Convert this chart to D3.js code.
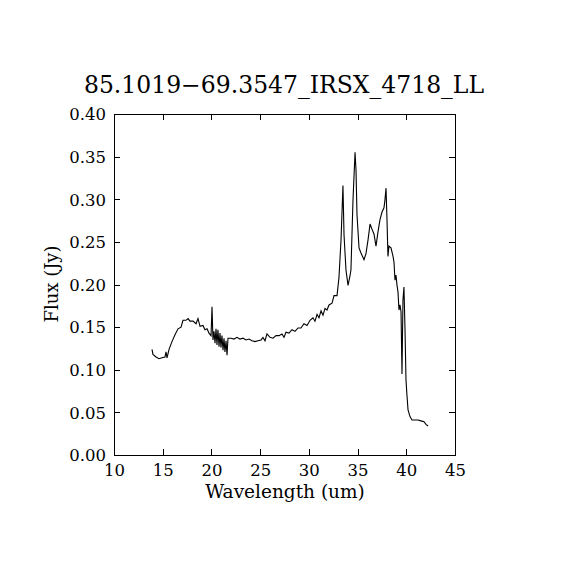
<!DOCTYPE html>
<html>
<head>
<meta charset="utf-8">
<script src="https://cdn.jsdelivr.net/npm/d3@7"></script>
<style>
html,body{margin:0;padding:0;background:#fff;}
svg text{font-family:"DejaVu Serif",serif;fill:#000;}
</style>
</head>
<body>
<svg id="chart" width="570" height="570"></svg>
<script>
const title = "85.1019\u221269.3547_IRSX_4718_LL";
const xLabel = "Wavelength (um)";
const yLabel = "Flux (Jy)";
const xTicks = [10, 15, 20, 25, 30, 35, 40, 45];
const yTicks = [0.00, 0.05, 0.10, 0.15, 0.20, 0.25, 0.30, 0.35, 0.40];

const wavelength = [13.90,14.00,14.31,14.62,14.93,15.23,15.34,15.44,15.65,15.95,16.26,16.57,16.88,17.08,17.39,17.60,17.80,18.11,18.42,18.62,18.83,19.13,19.34,19.55,19.75,19.96,20.06,20.16,20.26,20.37,20.47,20.57,20.67,20.78,20.88,20.98,21.08,21.19,21.29,21.39,21.50,21.60,21.70,22.01,22.32,22.62,22.93,23.24,23.55,23.86,24.16,24.47,24.78,25.09,25.29,25.50,25.70,26.01,26.32,26.63,26.94,27.24,27.45,27.65,27.96,28.27,28.58,28.89,29.19,29.50,29.81,30.12,30.42,30.63,30.84,31.04,31.25,31.45,31.66,31.86,32.07,32.38,32.58,32.89,33.09,33.30,33.50,33.61,33.81,34.02,34.22,34.32,34.53,34.74,34.84,34.94,35.15,35.35,35.66,35.86,36.07,36.28,36.48,36.69,36.89,37.10,37.30,37.51,37.71,37.81,37.92,38.02,38.12,38.22,38.43,38.64,38.74,38.84,38.94,39.05,39.15,39.25,39.35,39.46,39.56,39.66,39.76,39.87,39.97,40.07,40.18,40.38,40.59,40.89,41.20,41.51,41.82,42.02,42.23];
const flux = [0.124,0.118,0.115,0.113,0.114,0.115,0.121,0.114,0.124,0.133,0.141,0.148,0.150,0.158,0.158,0.160,0.157,0.157,0.154,0.160,0.151,0.152,0.147,0.148,0.143,0.140,0.174,0.135,0.145,0.131,0.148,0.129,0.147,0.127,0.143,0.126,0.140,0.123,0.137,0.121,0.134,0.117,0.137,0.137,0.136,0.138,0.136,0.137,0.135,0.136,0.134,0.133,0.134,0.135,0.138,0.134,0.142,0.138,0.137,0.140,0.140,0.142,0.138,0.144,0.143,0.147,0.145,0.149,0.149,0.154,0.152,0.158,0.161,0.157,0.165,0.161,0.169,0.164,0.172,0.170,0.176,0.178,0.187,0.187,0.208,0.252,0.316,0.258,0.217,0.199,0.210,0.217,0.299,0.355,0.334,0.282,0.243,0.237,0.229,0.236,0.252,0.271,0.265,0.259,0.245,0.262,0.276,0.285,0.290,0.299,0.313,0.276,0.233,0.245,0.243,0.233,0.226,0.205,0.211,0.199,0.191,0.170,0.176,0.168,0.095,0.182,0.197,0.147,0.088,0.070,0.053,0.045,0.041,0.041,0.041,0.040,0.039,0.036,0.034];

const L = 114, R = 455, T = 114, B = 455;
const svg = d3.select("#chart");
const x = d3.scaleLinear().domain([10, 45]).range([L, R]);
const y = d3.scaleLinear().domain([0, 0.40]).range([B, T]);
const tl = 6;
const fs = 16.5;

// frame
svg.append("rect").attr("x", L).attr("y", T).attr("width", R - L).attr("height", B - T)
  .attr("fill", "none").attr("stroke", "#000").attr("stroke-width", 1).attr("shape-rendering", "crispEdges");

// axes (inward ticks) with d3 axis generators
const fmtY = d3.format(".2f");
const gB = svg.append("g").attr("transform", `translate(0,${B})`)
  .call(d3.axisBottom(x).tickValues(xTicks).tickSize(-tl).tickPadding(tl + 2).tickFormat(d3.format("d")));
const gT = svg.append("g").attr("transform", `translate(0,${T})`)
  .call(d3.axisTop(x).tickValues(xTicks).tickSize(-tl).tickFormat(""));
const gL = svg.append("g").attr("transform", `translate(${L},0)`)
  .call(d3.axisLeft(y).tickValues(yTicks).tickSize(-tl).tickPadding(tl + 2).tickFormat(fmtY));
const gR = svg.append("g").attr("transform", `translate(${R},0)`)
  .call(d3.axisRight(y).tickValues(yTicks).tickSize(-tl).tickFormat(""));
[gB, gT, gL, gR].forEach(g => {
  g.select(".domain").remove();
  g.selectAll("line").attr("stroke", "#000").attr("stroke-width", 1).attr("shape-rendering", "crispEdges");
  g.selectAll("text").attr("font-family", "DejaVu Serif").attr("font-size", fs).attr("fill", "#000");
});
gB.selectAll("text").attr("dy", "0.8em");
gL.selectAll("text").attr("dy", "0.35em");

// data line
const line = d3.line().x((d, i) => x(wavelength[i])).y(d => y(d));
svg.append("path").datum(flux).attr("d", line)
  .attr("fill", "none").attr("stroke", "#000").attr("stroke-width", 1.1);

// title & labels
svg.append("text").attr("x", 284).attr("y", 93).attr("text-anchor", "middle")
  .attr("font-size", 23.5).text(title);
svg.append("text").attr("x", 285).attr("y", 498).attr("text-anchor", "middle")
  .attr("font-size", 18.5).text(xLabel);
svg.append("text").attr("transform", `translate(58,284) rotate(-90)`)
  .attr("text-anchor", "middle").attr("font-size", 18).text(yLabel);
</script>
</body>
</html>
